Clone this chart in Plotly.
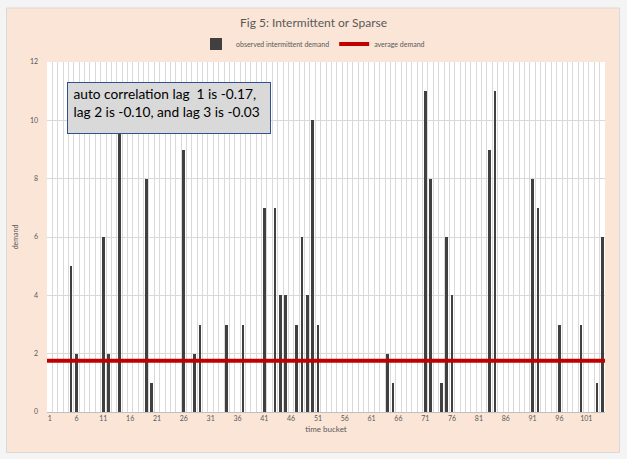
import plotly.graph_objects as go

# ---- data ----
time_bucket = list(range(1, 105))
demand = [
    0, 0, 0, 0, 5, 2, 0, 0, 0, 0,
    6, 2, 0, 10, 0, 0, 0, 0, 8, 1,
    0, 0, 0, 0, 0, 9, 0, 2, 3, 0,
    0, 0, 0, 3, 0, 0, 3, 0, 0, 0,
    7, 0, 7, 4, 4, 0, 3, 6, 4, 10,
    3, 0, 0, 0, 0, 0, 0, 0, 0, 0,
    0, 0, 0, 2, 1, 0, 0, 0, 0, 0,
    11, 8, 0, 1, 6, 4, 0, 0, 0, 0,
    0, 0, 9, 11, 0, 0, 0, 0, 0, 0,
    8, 7, 0, 0, 0, 3, 0, 0, 0, 3,
    0, 0, 1, 6,
]
x_tick_labels = [str(v) for v in range(1, 102, 5)]
y_ticks = [0, 2, 4, 6, 8, 10, 12]
average = sum(demand) / len(demand)

FONT = "Lato"
GREY = "#595959"

fig = go.Figure()
fig.add_trace(go.Bar(
    x=time_bucket, y=demand, name="observed intermittent demand",
    marker=dict(color="#404040", line=dict(width=0)), width=0.5,
))
fig.add_trace(go.Scatter(
    x=[time_bucket[0] - 0.5, time_bucket[-1] + 0.5], y=[average, average],
    mode="lines", name="average demand",
    line=dict(color="#c00000", width=4),
))

L, R, T, B = 47, 22, 62, 47
W, H = 627, 459
pw, ph = W - L - R, H - T - B

def px_x(p):
    return (p - L) / pw

def px_y(p):
    return (H - B - p) / ph

shapes = [
    dict(type="rect", xref="paper", yref="paper",
         x0=px_x(6.5), x1=px_x(619.5), y0=px_y(452.5), y1=px_y(8),
         fillcolor="#fbe5d6", line=dict(color="#d9d9d9", width=1), layer="below"),
    dict(type="rect", xref="paper", yref="paper",
         x0=0, x1=1, y0=0, y1=1,
         fillcolor="white", line=dict(width=0), layer="below"),
]

fig.update_layout(
    width=W, height=H,
    margin=dict(l=L, r=R, t=T, b=B),
    paper_bgcolor="#f4f4f4",
    plot_bgcolor="rgba(0,0,0,0)",
    shapes=shapes,
    font=dict(family=FONT, color=GREY),
    title=dict(text="Fig 5: Intermittent or Sparse", x=0.5, xanchor="center",
               y=1 - 23 / H, yanchor="middle", font=dict(size=12, color=GREY, family=FONT)),
    legend=dict(orientation="h", x=px_x(313), xanchor="center", y=px_y(44), yanchor="middle",
                font=dict(size=7, color=GREY), bgcolor="rgba(0,0,0,0)",
                itemwidth=30, tracegroupgap=0),
    bargap=0,
    showlegend=True,
    annotations=[dict(
        xref="paper", yref="paper", x=px_x(67), y=px_y(82), xanchor="left", yanchor="top",
        text="\u00a0auto correlation lag \u00a01 is -0.17,<br>\u00a0lag 2 is -0.10, and lag 3 is -0.03",
        showarrow=False, align="left", valign="top",
        font=dict(size=13.7, color="black", family=FONT),
        bgcolor="#d9d9d9", bordercolor="#2f528f", borderwidth=1, borderpad=2,
        width=198, height=46,
    )],
)

fig.update_xaxes(
    range=[0.5, 104.5], tickmode="array",
    tickvals=[int(t) for t in x_tick_labels], ticktext=x_tick_labels,
    showgrid=False, zeroline=False, ticks="", tickfont=dict(size=7, color=GREY),
    showline=True, linecolor="#bfbfbf", linewidth=1,
    minor=dict(tickmode="linear", tick0=0.5, dtick=1, showgrid=True,
               gridcolor="#d9d9d9", gridwidth=1, ticks=""),
    title=dict(text="time bucket", font=dict(size=8, color=GREY), standoff=4),
)
fig.update_yaxes(
    range=[0, 12], tickmode="array", tickvals=y_ticks,
    showgrid=True, gridcolor="#d9d9d9", gridwidth=1, zeroline=False,
    ticks="", tickfont=dict(size=7, color=GREY), ticklabelstandoff=8,
    title=dict(text="demand", font=dict(size=7, color=GREY), standoff=10),
)

fig.write_html("out.html")
